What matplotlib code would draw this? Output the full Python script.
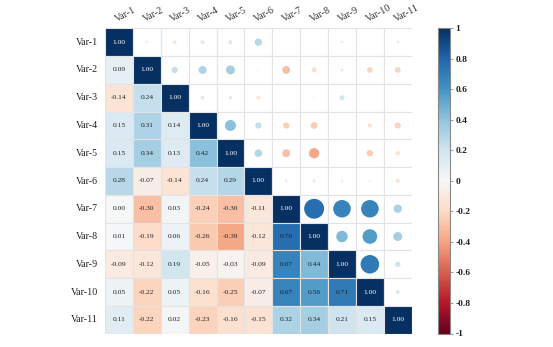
import numpy as np
import matplotlib
matplotlib.use("Agg")
import matplotlib.pyplot as plt
from matplotlib.patches import Rectangle, Circle
from matplotlib import cm, colors

labels = ["Var-1", "Var-2", "Var-3", "Var-4", "Var-5", "Var-6",
          "Var-7", "Var-8", "Var-9", "Var-10", "Var-11"]

# lower-triangle correlations, row by row
row2 = [0.09]
row3 = [-0.14, 0.24]
row4 = [0.15, 0.31, 0.14]
row5 = [0.15, 0.34, 0.13, 0.42]
row6 = [0.28, -0.07, -0.14, 0.24, 0.29]
row7 = [0.00, -0.30, 0.03, -0.24, -0.30, -0.11]
row8 = [0.01, -0.19, 0.06, -0.26, -0.39, -0.12, 0.76]
row9 = [-0.09, -0.12, 0.19, -0.05, -0.03, -0.09, 0.67, 0.44]
row10 = [0.05, -0.22, 0.05, -0.16, -0.25, -0.07, 0.67, 0.56, 0.71]
row11 = [0.11, -0.22, 0.02, -0.23, -0.16, -0.15, 0.32, 0.34, 0.21, 0.15]
lower_rows = [[], row2, row3, row4, row5, row6, row7, row8, row9, row10, row11]

n = len(labels)
corr = np.eye(n)
for i, r in enumerate(lower_rows):
    for j, v in enumerate(r):
        corr[i, j] = v
        corr[j, i] = v

cbar_ticks = [1, 0.8, 0.6, 0.4, 0.2, 0, -0.2, -0.4, -0.6, -0.8, -1]
cbar_labels = ["1", "0.8", "0.6", "0.4", "0.2", "0", "-0.2", "-0.4", "-0.6", "-0.8", "-1"]

W, H = 553, 347
fig = plt.figure(figsize=(W / 100, H / 100), dpi=100)
ax = fig.add_axes([105 / W, 1 - 333.7 / H, 306.7 / W, 305.4 / H])
cmap = matplotlib.colormaps["RdBu"]
norm = colors.Normalize(-1, 1)
serif = "Liberation Serif"

grid_col = "#e3e3e3"
for i in range(n):
    for j in range(n):
        v = corr[i, j]
        c = cmap(norm(v))
        if j <= i:
            ax.add_patch(Rectangle((j - 0.5, i - 0.5), 1, 1, facecolor=c,
                                   edgecolor=grid_col, linewidth=0.8, zorder=1))
            tc = "white" if i == j else "#222222"
            ax.text(j, i, f"{v:.2f}", ha="center", va="center", fontsize=5.4,
                    color=tc, family=serif, zorder=3)
        else:
            ax.add_patch(Rectangle((j - 0.5, i - 0.5), 1, 1, facecolor="white",
                                   edgecolor=grid_col, linewidth=0.8, zorder=1))
            r = 0.47 * abs(v)
            if r > 0:
                ax.add_patch(Circle((j, i), r, facecolor=c, edgecolor="none", zorder=2))

ax.set_xlim(-0.5, n - 0.5)
ax.set_ylim(n - 0.5, -0.5)
ax.set_xticks([])
ax.set_yticks([])
for s in ax.spines.values():
    s.set_visible(False)

for i, lab in enumerate(labels):
    ax.text(-0.75, i, lab, ha="right", va="center", fontsize=7.2, family=serif, color="#222222")
    ax.text(i - 0.05, -0.65, lab, ha="left", va="bottom", rotation=28,
            rotation_mode="anchor", fontsize=7.2, family=serif, color="#333333")

cax = fig.add_axes([438.3 / W, 1 - 333.5 / H, 11.7 / W, 305.2 / H])
sm = cm.ScalarMappable(norm=norm, cmap=cmap)
cb = fig.colorbar(sm, cax=cax)
cb.set_ticks(cbar_ticks)
cb.set_ticklabels(cbar_labels)
cb.outline.set_edgecolor("#888888")
cb.outline.set_linewidth(0.8)
cax.tick_params(length=2, width=0.6, color="#888888", pad=2)
for t in cax.get_yticklabels():
    t.set_fontsize(6.8)
    t.set_fontweight("bold")
    t.set_family("Liberation Serif")
    t.set_color("#222222")

fig.savefig("out.png", dpi=100)
